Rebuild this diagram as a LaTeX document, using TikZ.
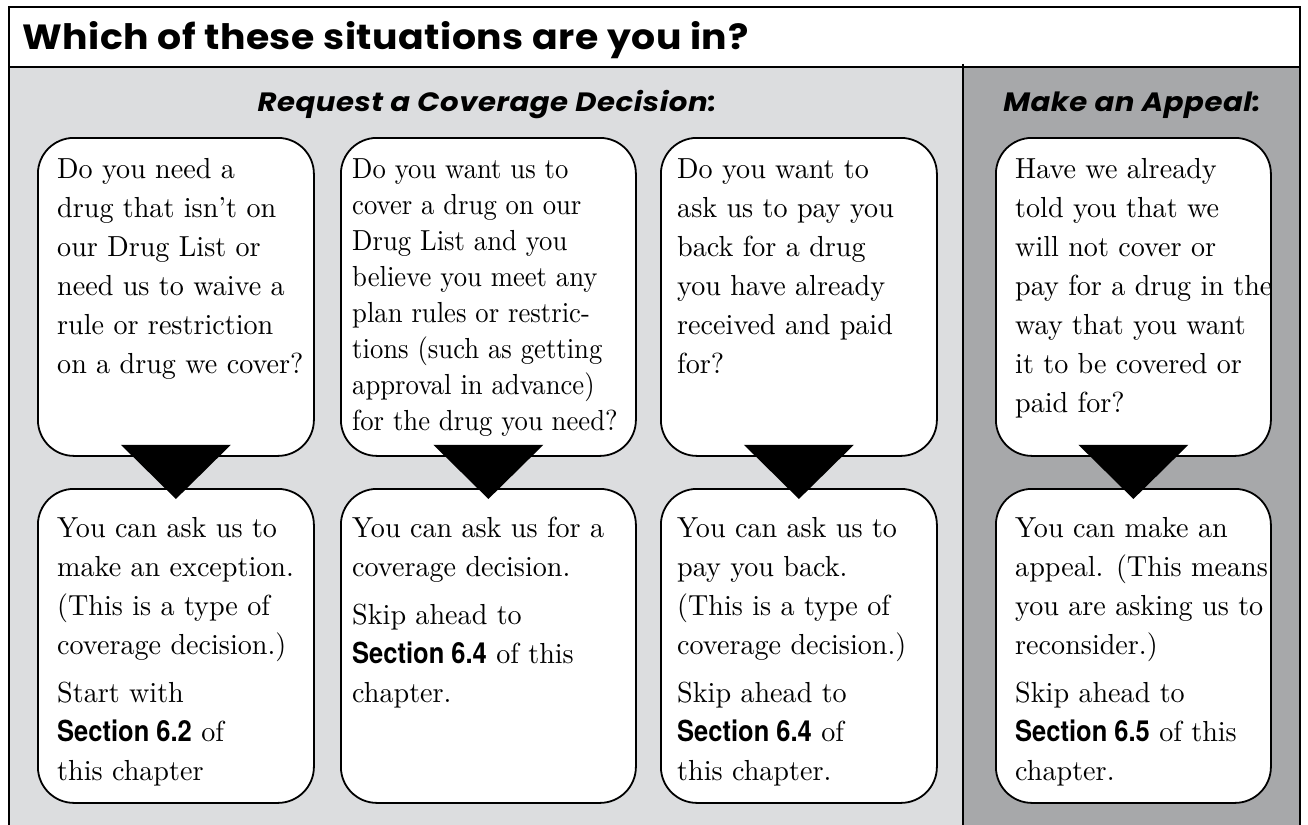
\documentclass[tikz,border=0pt]{standalone}
\usepackage{fontspec}
\newfontfamily\headfont{Poppins}[FakeStretch=1.1, LetterSpace=2]
\newfontfamily\titlefont{Poppins}[FakeStretch=1.08, LetterSpace=1.5]
\newfontfamily\secfont{TeX Gyre Heros}[FakeStretch=0.88]
\newfontfamily\bodyfont{lmroman10-regular.otf}[FakeStretch=0.97]
\newfontfamily\narrowbody{lmroman10-regular.otf}[FakeStretch=0.92]
\usetikzlibrary{calc}
\definecolor{lightbg}{HTML}{DCDDDF}
\definecolor{darkbg}{HTML}{A7A8AA}
\newcommand\sect[1]{{\secfont\bfseries\fontsize{29}{39}\selectfont #1}}
\tikzset{
  qbox/.style={draw=black, line width=1.8pt, fill=white, rounded corners=36pt,
    inner sep=0pt, anchor=north west},
  txt/.style={anchor=base west, inner sep=0pt, font=\bodyfont\fontsize{29}{39}\selectfont},
  tighttxt/.style={txt, font=\narrowbody\fontsize{29}{36}\selectfont},
  tri/.style={fill=black},
  frame/.style={draw=black, line width=2pt},
  heading/.style={anchor=base, inner sep=0pt, font=\headfont\bfseries\itshape\fontsize{26.5}{26.5}\selectfont},
}
\begin{document}
\begin{tikzpicture}[x=1pt,y=-1pt]
\clip (0,0) rectangle (1308,824);
\useasboundingbox (0,0) rectangle (1308,824);
\fill[white] (0,0) rectangle (1308,824);
% panels
\fill[white] (9,7) rectangle (1300,67);
\fill[lightbg] (9,67) rectangle (963,850);
\fill[darkbg] (963,67) rectangle (1300,850);
\draw[frame] (9,7) rectangle (1300,850);
\draw[frame] (9,67) -- (1300,67);
\draw[frame] (963,64) -- (963,850);
% title and headings
\node[anchor=base west, inner sep=0pt, font=\titlefont\bfseries\fontsize{35}{35}\selectfont] (title) at (22,50) {Which of these situations are you in?};
\node[heading] (h1) at (487,112) {Request a Coverage Decision:};
\node[heading] (h2) at (1132,112) {Make an Appeal:};
% question boxes
\node[qbox, minimum width=276pt, minimum height=318pt] (q1) at (37,137) {};
\node[qbox, minimum width=295pt, minimum height=318pt] (q2) at (340,137) {};
\node[qbox, minimum width=276pt, minimum height=318pt] (q3) at (660,137) {};
\node[qbox, minimum width=275pt, minimum height=318pt] (q4) at (995,137) {};
% answer boxes
\node[qbox, minimum width=276pt, minimum height=314pt] (a1) at (37,488) {};
\node[qbox, minimum width=295pt, minimum height=314pt] (a2) at (340,488) {};
\node[qbox, minimum width=276pt, minimum height=314pt] (a3) at (660,488) {};
\node[qbox, minimum width=275pt, minimum height=314pt] (a4) at (995,488) {};
% triangles
\foreach \i in {1,2,3,4}{
  \fill[tri] ($(q\i.south)+(-55,-12)$) -- ($(q\i.south)+(55,-12)$) -- ($(a\i.north)+(0,11)$) -- cycle;
}
% question texts
\node[txt] (tq1) at (57,178) {\vtop{\hbox{Do you need a}\hbox{drug that isn’t on}\hbox{our Drug List or}\hbox{need us to waive a}\hbox{rule or restriction}\hbox{on a drug we cover?}}};
\node[tighttxt] (tq2) at (352,178) {\vtop{\hbox{Do you want us to}\hbox{cover a drug on our}\hbox{Drug List and you}\hbox{believe you meet any}\hbox{plan rules or restric-}\hbox{tions (such as getting}\hbox{approval in advance)}\hbox{for the drug you need?}}};
\node[txt] (tq3) at (677,178) {\vtop{\hbox{Do you want to}\hbox{ask us to pay you}\hbox{back for a drug}\hbox{you have already}\hbox{received and paid}\hbox{for?}}};
\node[txt] (tq4) at (1015,178) {\vtop{\hbox{Have we already}\hbox{told you that we}\hbox{will not cover or}\hbox{pay for a drug in the}\hbox{way that you want}\hbox{it to be covered or}\hbox{paid for?}}};
% answer texts
\node[txt] (ta1) at (57,537) {\vtop{\hbox{You can ask us to}\hbox{make an exception.}\hbox{(This is a type of}\hbox{coverage decision.)}\vskip9pt\hbox{Start with}\hbox{\sect{Section 6.2} of}\hbox{this chapter}}};
\node[txt] (ta2) at (352,537) {\vtop{\hbox{You can ask us for a}\hbox{coverage decision.}\vskip9pt\hbox{Skip ahead to}\hbox{\sect{Section 6.4} of this}\hbox{chapter.}}};
\node[txt] (ta3) at (677,537) {\vtop{\hbox{You can ask us to}\hbox{pay you back.}\hbox{(This is a type of}\hbox{coverage decision.)}\vskip9pt\hbox{Skip ahead to}\hbox{\sect{Section 6.4} of}\hbox{this chapter.}}};
\node[txt] (ta4) at (1015,537) {\vtop{\hbox{You can make an}\hbox{appeal. (This means}\hbox{you are asking us to}\hbox{reconsider.)}\vskip9pt\hbox{Skip ahead to}\hbox{\sect{Section 6.5} of this}\hbox{chapter.}}};
\end{tikzpicture}
\end{document}
